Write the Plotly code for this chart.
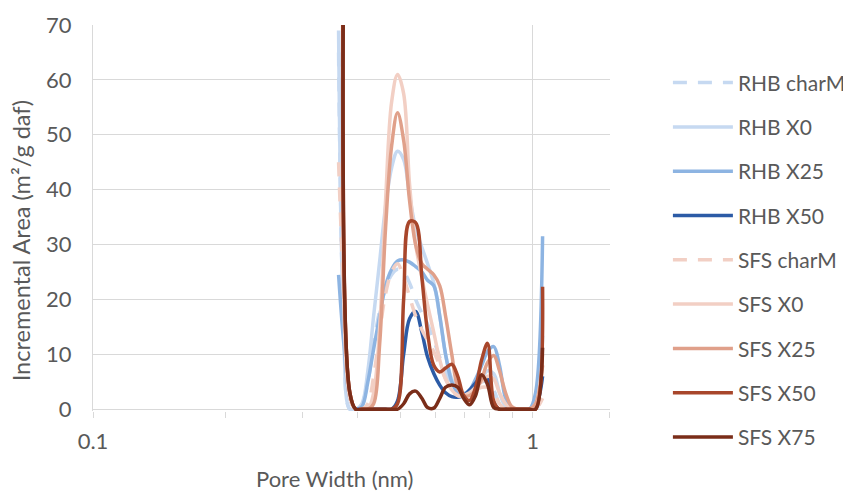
import plotly.graph_objects as go

# Pore width grid (nm)
pore_width = [0.362, 0.372, 0.384, 0.396, 0.409, 0.422, 0.435, 0.449, 0.463, 0.478,
              0.493, 0.509, 0.525, 0.542, 0.560, 0.577, 0.596, 0.615, 0.634, 0.655,
              0.676, 0.697, 0.719, 0.742, 0.766, 0.790, 0.816, 0.841, 0.868, 0.896,
              0.925, 0.954, 0.984, 1.016, 1.054]

N = None
rhb_charM = [65, 15, 0, 0, 1, 5, 12, 18, 22, 24.5, 25.5, 25, 23, 20, 17.5, 15.5, 12.5, 9.5, 7, 4.5,
             3, 2.5, 3, 4, 5, 5, 3.5, 1, 0, 0, 0, 0, 0, 0, 3]
rhb_x0 = [69, 15, 0, 0, 1, 7, 17, 27, 37, 44, 47, 45.5, 39, 33, 29.5, 26.5, 23, 17, 10, 5.5,
          3.5, 2.5, 3, 4, 5.5, 7, 6.5, 3, 0.5, 0, 0, 0, 0, 1, 13.4]
rhb_x25 = [24.5, 12, 2, 0, 0.5, 5, 11, 17, 22.5, 25.5, 27, 27.2, 26.8, 26, 25, 23.5, 22.5, 17, 10, 5,
           3, 2.8, 3.5, 5.5, 8, 10.5, 11.4, 8, 2, 0, 0, 0, 0, 3, 31.5]
rhb_x50 = [N, N, N, 0, 0, 0, 0, 0, 0, 0, 1.5, 10, 16.5, 17.8, 14, 9.5, 6.5, 4.4, 3, 2.3,
           2.2, 2.5, 3.5, 4.8, 5.8, 5.5, 1, 0, 0, 0, 0, 0, 0, 0.5, 6]
sfs_charM = [45, 21, 3, 0, 0, 1, 6, 14, 21, 25, 26.5, 24, 20.5, 17, 14.5, 12.5, 10.5, 8, 5.5, 3.5,
             2.5, 2.5, 3, 3.5, 4, 4, 3, 1, 0, 0, 0, 0, 0, 0, 2]
sfs_x0 = [N, 80, 2, 0, 0, 0, 3, 15, 38, 56, 61, 57.5, 41, 30, 24, 19, 14, 9, 5.5, 3.5,
          2.5, 2.5, 3, 4, 5, 6, 5.5, 3, 1, 0, 0, 0, 0, 1, 10]
sfs_x25 = [N, 90, 3, 0, 0, 0, 1, 12, 33, 48, 54, 49, 38, 30, 26.5, 25.5, 24.5, 22.5, 17, 10,
           4, 2.5, 2.5, 3.5, 5.5, 8.5, 9.8, 7, 3, 0.5, 0, 0, 0, 1, 8]
sfs_x50 = [N, 110, 3, 0, 0, 0, 0, 0, 0, 0, 1, 20, 34.2, 34, 24, 14, 8, 6.8, 7.5, 8.2,
           6, 2.5, 1.6, 4, 9, 12, 1.5, 0, 0, 0, 0, 0, 0, 0, 22.3]
sfs_x75 = [N, 90, 3, 0, 0, 0, 0, 0, 0, 0, 0, 1, 2.8, 3.3, 2, 0.3, 0.2, 2, 4, 4.4,
           4, 2, 0.8, 2.5, 6.3, 4.5, 0.3, 0, 0, 0, 0, 0, 0, 0, 11.2]

series_names = ["RHB charM", "RHB X0", "RHB X25", "RHB X50",
                "SFS charM", "SFS X0", "SFS X25", "SFS X50", "SFS X75"]
series_values = [rhb_charM, rhb_x0, rhb_x25, rhb_x50,
                 sfs_charM, sfs_x0, sfs_x25, sfs_x50, sfs_x75]
series_colors = ["#c6d9f1", "#c6d9f1", "#8db4e2", "#2c5ba6",
                 "#f2cfc4", "#f2cfc4", "#e0a08a", "#a8462b", "#7a2d19"]
series_dash = ["14px,11px", "solid", "solid", "solid",
               "14px,11px", "solid", "solid", "solid", "solid"]

x_major_ticks = [0.1, 1]
x_minor_ticks = [0.2, 0.3, 0.4, 0.5, 0.6, 0.7, 0.8, 0.9, 1.5]

FONT = "Lato, 'Open Sans', sans-serif"
GREY = "#595959"
FS = 22

fig = go.Figure()
for name, vals, col, dash in zip(series_names, series_values, series_colors, series_dash):
    fig.add_trace(go.Scatter(
        x=pore_width, y=vals, name=name, mode="lines",
        line=dict(color=col, width=3.5, dash=dash, shape="spline", smoothing=1),
        legendgroup=name, connectgaps=False,
    ))

# the page places the figure 8 px from the top-left corner, so the figure is
# slightly smaller than the window and its margins are reduced accordingly
fig.update_layout(
    width=843, height=485,
    margin=dict(l=85, r=241, t=17, b=82, autoexpand=False),
    paper_bgcolor="white", plot_bgcolor="white",
    font=dict(family=FONT, size=FS, color=GREY),
    showlegend=True,
    legend=dict(x=1.112, y=0.903, xanchor="left", yanchor="top",
                traceorder="grouped", tracegroupgap=14,
                font=dict(family=FONT, size=21, color=GREY),
                bgcolor="rgba(0,0,0,0)", itemwidth=60),
    xaxis=dict(
        type="log", range=[-1, 0.1762],
        tickvals=x_major_ticks, ticktext=["0.1", "1"],
        showgrid=True, gridcolor="#d9d9d9", gridwidth=1.3,
        showline=False,
        ticks="outside", ticklen=6, tickcolor="#d9d9d9", tickwidth=1.3,
        ticklabelstandoff=5,
        minor=dict(tickvals=x_minor_ticks, ticks="outside", ticklen=6,
                   tickcolor="#d9d9d9", tickwidth=1.3, showgrid=False),
        tickfont=dict(family=FONT, size=FS, color=GREY),
        zeroline=False,
    ),
    yaxis=dict(
        range=[-0.32, 70], tickvals=[0, 10, 20, 30, 40, 50, 60, 70],
        showgrid=True, gridcolor="#d9d9d9", gridwidth=1.3,
        showline=True, linecolor="#d9d9d9", linewidth=1.3,
        ticks="", ticklabelstandoff=16,
        tickfont=dict(family=FONT, size=FS, color=GREY),
        zeroline=False,
    ),
    annotations=[
        dict(text="Pore Width (nm)", xref="paper", yref="paper",
             x=0.468, y=-0.1736, xanchor="center", yanchor="middle",
             showarrow=False, font=dict(family=FONT, size=FS, color=GREY)),
        dict(text="Incremental Area (m²/g daf)", xref="paper", yref="paper",
             x=-0.139, y=0.44, xanchor="center", yanchor="middle", textangle=-90,
             showarrow=False, font=dict(family=FONT, size=23.5, color=GREY)),
    ],
)

fig.write_html("out.html")
